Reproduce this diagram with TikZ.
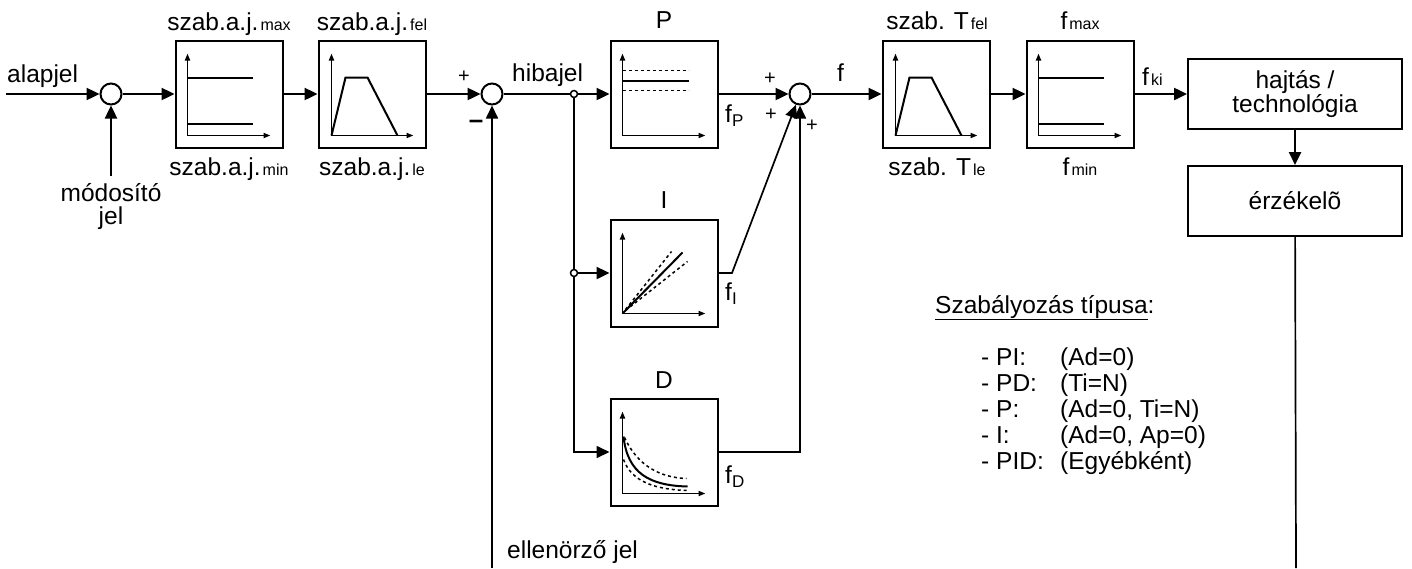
\documentclass[tikz,border=0pt]{standalone}
\usepackage{fontspec}
\setmainfont{Liberation Sans}
\usetikzlibrary{arrows.meta}

\newcommand{\sub}[1]{\hspace{2pt}{\fontsize{16}{16}\selectfont #1}}
\newcommand{\subd}[1]{\raisebox{-4pt}{\fontsize{17}{17}\selectfont #1}}

% small graphs drawn inside the boxes, #1 = name of the box
\newcommand{\limitgraph}[1]{%
  \begin{scope}[shift={(#1.north west)}]
    \draw[axis] (13,96) -- (13,14);
    \draw[axis] (13,96) -- (96,96);
    \draw[curve] (13,38) -- (78,38);
    \draw[curve] (13,84) -- (78,84);
  \end{scope}}
\newcommand{\rampgraph}[1]{%
  \begin{scope}[shift={(#1.north west)}]
    \draw[axis] (14,96) -- (14,14);
    \draw[axis] (14,96) -- (96,96);
    \draw[curve, line join=miter] (14,96) -- (28,38) -- (50,38) -- (80,96);
  \end{scope}}

\begin{document}
\begin{tikzpicture}[x=1pt, y=-1pt, font=\fontsize{24.5}{24}\selectfont,
    box/.style = {draw, line width=2pt, minimum width=107pt, minimum height=107pt, inner sep=0pt},
    wide/.style = {draw, line width=2pt, minimum width=214pt, minimum height=70pt, align=center},
    sum/.style = {draw, circle, line width=2pt, minimum size=21pt, inner sep=0pt},
    dot/.style = {draw, circle, fill=white, line width=1.5pt, minimum size=7pt, inner sep=0pt},
    sig/.style = {line width=2.4pt, -{Triangle[length=13pt,width=12pt]}},
    wire/.style = {line width=1.7pt},
    lbl/.style = {inner sep=0pt},
    sign/.style = {inner sep=0pt, font=\fontsize{20}{20}\selectfont},
    axis/.style = {line width=1.8pt, -{Triangle[length=7pt,width=5pt]}},
    curve/.style = {line width=2pt},
    dots/.style = {line width=1.5pt, dash pattern=on 3pt off 3pt}]
    \useasboundingbox (0,0) rectangle (1412,568);

    % blocks
    \node [sum] (s1) at (111,94) {};
    \node [box] (maxmin) at (229,94) {};
    \node [box] (ramp) at (372,94) {};
    \node [sum] (s2) at (492,94) {};
    \node [dot] (j1) at (574,94) {};
    \node [dot] (j2) at (574,273) {};
    \node [box] (P) at (664,94) {};
    \node [box] (I) at (664,273) {};
    \node [box] (D) at (664,452) {};
    \node [sum] (s3) at (800,94) {};
    \node [box] (T) at (936,94) {};
    \node [box] (fmax) at (1080,94) {};
    \node [wide] (hajtas) at (1295,94) {hajtás /\\technológia};
    \node [wide] (erz) at (1295,201) {érzékelõ};

    % graphs
    \limitgraph{maxmin}
    \rampgraph{ramp}
    \rampgraph{T}
    \limitgraph{fmax}
    \begin{scope}[shift={(P.north west)}]
        \draw[axis] (13,96) -- (13,14);
        \draw[axis] (13,96) -- (96,96);
        \draw[curve] (13,41) -- (79,41);
        \draw[dots] (13,31) -- (79,31);
        \draw[dots] (13,51) -- (79,51);
    \end{scope}
    \begin{scope}[shift={(I.north west)}]
        \draw[axis] (13,95) -- (13,14);
        \draw[axis] (13,95) -- (96,95);
        \draw[curve] (13,95) -- (73,34);
        \draw[dots] (16,91) -- (62,33);
        \draw[dots] (16,92) -- (78,43);
    \end{scope}
    \begin{scope}[shift={(D.north west)}]
        \draw[axis] (13,96) -- (13,14);
        \draw[axis] (13,96) -- (96,96);
        \draw[curve] (14,39) .. controls (18,76) and (40,88) .. (78,89);
        \draw[dots] (15,40) .. controls (28,68) and (50,80) .. (77,81);
        \draw[dots] (14,62) .. controls (22,84) and (45,92) .. (78,93);
    \end{scope}

    % labels
    \node [lbl, anchor=base west] (alap) at (7,82) {alapjel};
    \node [lbl, align=center, anchor=north, font=\fontsize{24.5}{23}\selectfont] (modlbl) at (111,183) {módosító\\jel};
    \node [lbl, anchor=base] (lmax) at (229,30) {szab.a.j.\sub{max}};
    \node [lbl, anchor=base] (lmin) at (229,175) {szab.a.j.\sub{min}};
    \node [lbl, anchor=base] (lfel) at (372,30) {szab.a.j.\sub{fel}};
    \node [lbl, anchor=base] (lle) at (372,175) {szab.a.j.\sub{le}};
    \node [sign] (p1) at (464,77) {+};
    \node [sign, font=\fontsize{26}{26}\selectfont\bfseries] (m1) at (476,124) {–};
    \node [lbl, anchor=base west] (hiba) at (512,81) {hibajel};
    \node [lbl, anchor=base] (lP) at (664,28) {P};
    \node [lbl, anchor=base] (lI) at (664,208) {I};
    \node [lbl, anchor=base] (lD) at (664,388) {D};
    \node [lbl, anchor=base west] (fP) at (725,122) {f\subd{P}};
    \node [lbl, anchor=base west] (fI) at (725,300) {f\subd{I}};
    \node [lbl, anchor=base west] (fD) at (725,483) {f\subd{D}};
    \node [sign] (p2) at (770,79) {+};
    \node [sign] (p3) at (771,115) {+};
    \node [sign] (p4) at (812,126) {+};
    \node [lbl, anchor=base west] (lf) at (837,81) {f};
    \node [lbl, anchor=base] (lTfel) at (937,29) {szab. T\sub{fel}};
    \node [lbl, anchor=base] (lTle) at (937,175) {szab. T\sub{le}};
    \node [lbl, anchor=base] (lfmax) at (1080,29) {f\sub{max}};
    \node [lbl, anchor=base] (lfmin) at (1080,175) {f\sub{min}};
    \node [lbl, anchor=base west] (lfki) at (1142,85) {f\sub{ki}};
    \node [lbl, anchor=base west] (ell) at (507,558) {ellenörző jel};
    \node [lbl, anchor=base west] (cim) at (935,313) {\underline{Szabályozás típusa}:};
    \node [lbl, anchor=north west, align=left, font=\fontsize{24.5}{26}\selectfont] (tipus) at (981,348)
        {\makebox[79pt][l]{- PI:}(Ad=0)\\
         \makebox[79pt][l]{- PD:}(Ti=N)\\
         \makebox[79pt][l]{- P:}(Ad=0, Ti=N)\\
         \makebox[79pt][l]{- I:}(Ad=0, Ap=0)\\
         \makebox[79pt][l]{- PID:}(Egyébként)};

    % connectors
    \coordinate (in) at (6,94);
    \coordinate (mod) at (111,176);
    \coordinate (fb) at (492,568);
    \coordinate (ik) at (732,273);
    \coordinate (erzout) at (1296,568);
    \draw [sig] (in) -- (s1);
    \draw [sig] (mod) -- (s1);
    \draw [sig] (s1) -- (maxmin);
    \draw [sig] (maxmin) -- (ramp);
    \draw [sig] (ramp) -- (s2);
    \draw [sig, wire] (fb) -- (s2);
    \draw [line width=2.4pt] (s2) -- (j1);
    \draw [sig] (j1) -- (P);
    \draw [wire] (j1) -- (j2);
    \draw [sig] (j2) -- (I);
    \draw [sig, wire] (j2) |- (D);
    \draw [sig] (P) -- (s3);
    \draw [sig, wire] (I.east) -- (ik) -- (s3);
    \draw [sig, wire] (D.east) -| (s3);
    \draw [sig] (s3) -- (T);
    \draw [sig] (T) -- (fmax);
    \draw [sig] (fmax) -- (hajtas);
    \draw [sig] (hajtas) -- (erz);
    \draw [wire] (erz) -- (erzout);
\end{tikzpicture}
\end{document}
